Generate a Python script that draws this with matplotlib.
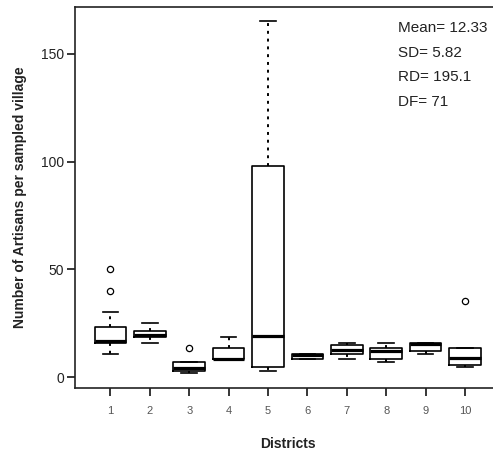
import matplotlib
matplotlib.use("Agg")
import matplotlib.pyplot as plt

plt.rcParams['font.family'] = ['Liberation Sans', 'DejaVu Sans']

# box statistics
districts = ['1', '2', '3', '4', '5', '6', '7', '8', '9', '10']
whislo = [10.7, 15.8, 1.7, 8.3, 2.9, 8.4, 8.4, 6.8, 10.7, 4.5]
q1 = [16.0, 18.4, 2.8, 8.3, 4.5, 8.4, 10.5, 8.4, 12.2, 5.6]
med = [16.5, 19.7, 4.3, 8.5, 19.0, 10.2, 12.5, 12.1, 15.2, 8.7]
q3 = [23.4, 21.4, 6.8, 13.5, 98.0, 10.9, 14.7, 13.5, 15.8, 13.5]
whishi = [30.2, 25.1, 6.8, 18.6, 165.4, 10.9, 15.8, 15.8, 15.8, 13.5]
fliers = [[39.8, 50.3], [], [13.3], [], [], [], [], [], [], [35.3]]

stats_text = ["Mean= 12.33", "SD= 5.82", "RD= 195.1", "DF= 71"]

stats = []
for i in range(len(districts)):
    stats.append(dict(label=districts[i], whislo=whislo[i], q1=q1[i], med=med[i],
                      q3=q3[i], whishi=whishi[i], fliers=fliers[i]))

fig = plt.figure(figsize=(4.93, 4.57), dpi=100)
# plot region runs past the right edge (the source image is cropped)
ax = fig.add_axes([75/493, 69/457, (500.4-75)/493, (388-7)/457])

ax.bxp(stats, positions=range(1, 11), widths=0.8, showfliers=True,
       boxprops=dict(color='black', linewidth=1.2),
       medianprops=dict(color='black', linewidth=2.3, solid_capstyle='butt'),
       whiskerprops=dict(color='black', linewidth=1.4, linestyle=(0, (1.5, 2.5))),
       capprops=dict(color='black', linewidth=1.2),
       capwidths=0.4,
       flierprops=dict(marker='o', markerfacecolor='none', markeredgecolor='black',
                       markersize=4.5, markeredgewidth=0.9))

ax.set_xlim(0.1, 10.9)
ax.set_ylim(-5.1, 171.8)
ax.set_yticks([0, 50, 100, 150])
ax.set_xticks(range(1, 11))
ax.set_xticklabels(districts)

for s in ax.spines.values():
    s.set_linewidth(1.2)
    s.set_color('#222222')

ax.tick_params(axis='y', direction='out', length=6, width=1.1, labelsize=10,
               labelcolor='#222222', pad=2)
ax.tick_params(axis='x', direction='out', length=6, width=1.1, labelsize=8,
               labelcolor='#555555', pad=7)

ax.set_xlabel("Districts", fontsize=10, fontweight='bold', color='#222222', labelpad=15)
ax.set_ylabel("Number of Artisans per sampled village", fontsize=10,
              fontweight='bold', color='#222222', labelpad=10)

for k, line in enumerate(stats_text):
    ax.text(398/493, 1 - (28 + 24.6*k)/457, line, transform=fig.transFigure,
            fontsize=11, va='center', ha='left', color='#222222')

fig.savefig("out.png", dpi=100)
